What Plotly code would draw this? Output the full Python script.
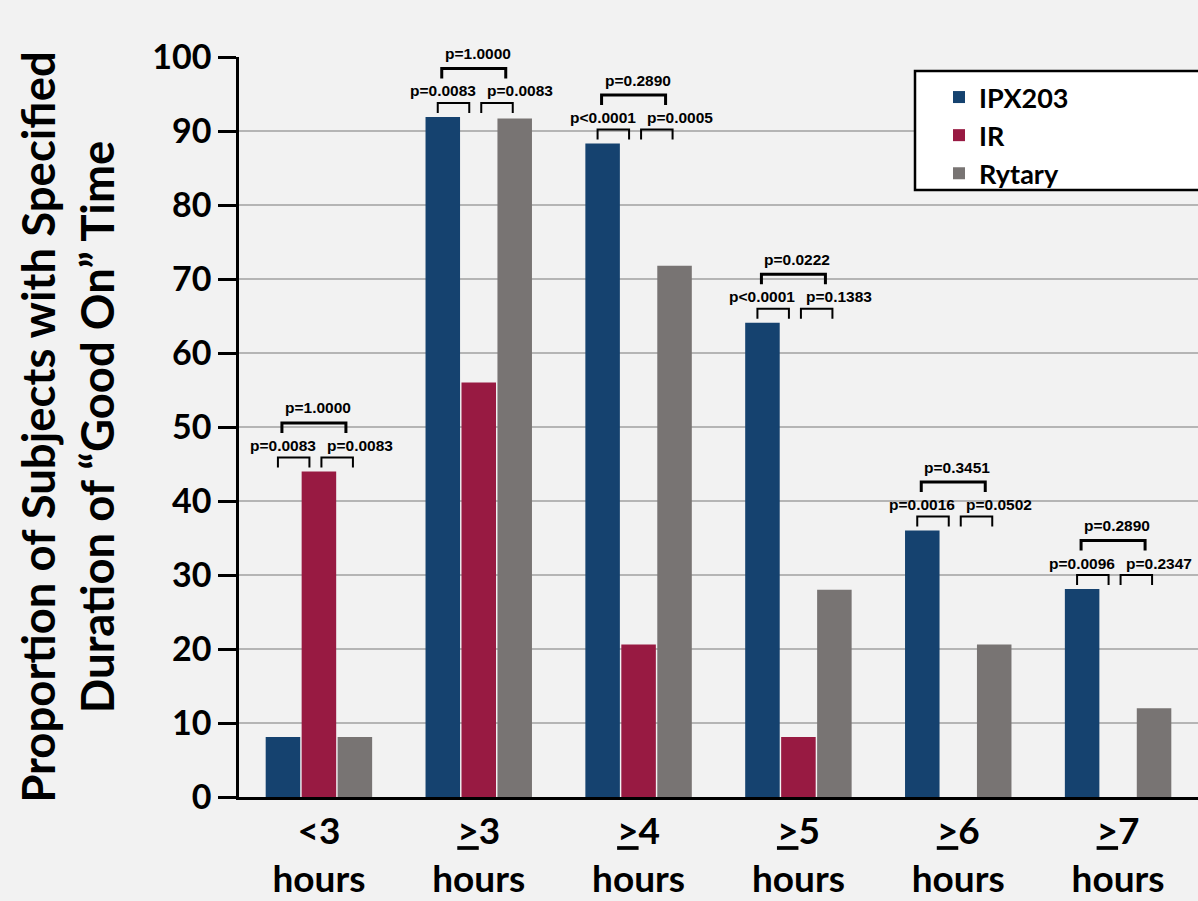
import plotly.graph_objects as go

# ---------------- data ----------------
categories = ["<3<br>hours", "<u>></u>3<br>hours", "<u>></u>4<br>hours",
              "<u>></u>5<br>hours", "<u>></u>6<br>hours", "<u>></u>7<br>hours"]
ipx203 = [8.1, 91.9, 88.3, 64.1, 36.0, 28.1]
ir = [44.0, 56.0, 20.6, 8.1, 0.0, 0.0]
rytary = [8.1, 91.7, 71.8, 28.0, 20.6, 12.0]

p_ipx_vs_ir = ["p=0.0083", "p=0.0083", "p<0.0001", "p<0.0001", "p=0.0016", "p=0.0096"]
p_ir_vs_ryt = ["p=0.0083", "p=0.0083", "p=0.0005", "p=0.1383", "p=0.0502", "p=0.2347"]
p_ipx_vs_ryt = ["p=1.0000", "p=1.0000", "p=0.2890", "p=0.0222", "p=0.3451", "p=0.2890"]

y_ticks = list(range(0, 101, 10))

# ---------------- style ----------------
W, H = 1198, 901
M = dict(l=239, r=0, t=57, b=104)
BG = "#F2F2F2"
FONT = "Lato, 'Open Sans', sans-serif"
PFONT = "'Liberation Sans', Arial, sans-serif"
colors = {"IPX203": "#15426F", "IR": "#981A42", "Rytary": "#787473"}

plot_h = H - M["t"] - M["b"]
plot_w = W - M["l"] - M["r"]
ppu = plot_h / 100.0  # pixels per y unit
cat_px = plot_w / len(categories)

x = list(range(len(categories)))

fig = go.Figure()
for name, vals in [("IPX203", ipx203), ("IR", ir), ("Rytary", rytary)]:
    fig.add_trace(go.Bar(x=x, y=vals, name=name, marker=dict(color=colors[name], line=dict(width=0)),
                         cliponaxis=False))

# ---------------- significance brackets ----------------
def px2x(p):
    return p / cat_px

def px2y(p):
    return p / ppu

shapes = []
annotations = []
for i in x:
    top = max(ipx203[i], ir[i], rytary[i])
    small_top = top + px2y(14)
    small_bot = top + px2y(4)
    big_top = top + px2y(48.5)
    big_bot = top + px2y(38.5)
    for (a, b) in [(-41, -9.5), (2.5, 34)]:
        shapes.append(dict(type="path", xref="x", yref="y",
                           path=f"M {i+px2x(a)},{small_bot} L {i+px2x(a)},{small_top} L {i+px2x(b)},{small_top} L {i+px2x(b)},{small_bot}",
                           line=dict(color="black", width=2)))
    shapes.append(dict(type="path", xref="x", yref="y",
                       path=f"M {i+px2x(-37)},{big_bot} L {i+px2x(-37)},{big_top} L {i+px2x(27)},{big_top} L {i+px2x(27)},{big_bot}",
                       line=dict(color="black", width=3)))
    for txt, dx, dy in [(p_ipx_vs_ir[i], -36, 26), (p_ir_vs_ryt[i], 41, 26), (p_ipx_vs_ryt[i], -1, 63.5)]:
        annotations.append(dict(x=i + px2x(dx), y=(top + px2y(dy)) / 100.0, xref="x", yref="paper",
                                text=f"<b>{txt}</b>", showarrow=False,
                                xanchor="center", yanchor="middle",
                                font=dict(family=PFONT, size=15.5, color="black")))

# legend box
shapes.append(dict(type="rect", xref="paper", yref="paper",
                   x0=(915 - M["l"]) / plot_w, x1=1.02,
                   y0=(H - M["b"] - 190) / plot_h, y1=(H - M["b"] - 71) / plot_h,
                   fillcolor="white", line=dict(color="black", width=2.5), layer="above"))

fig.update_layout(
    width=W, height=H, margin=M,
    paper_bgcolor=BG, plot_bgcolor=BG,
    barmode="group", bargap=0.325, bargroupgap=0.04,
    font=dict(family=FONT, color="black"),
    showlegend=True,
    legend=dict(x=(939 - M["l"]) / plot_w, y=(H - M["b"] - 73) / plot_h,
                xanchor="left", yanchor="top", bgcolor="rgba(0,0,0,0)", borderwidth=0,
                font=dict(family=FONT, size=27, color="black", weight="bold"),
                tracegroupgap=0),
    shapes=shapes, annotations=annotations,
)

fig.update_xaxes(range=[-0.5, len(categories) - 0.5], tickvals=x, ticktext=[f"<b>{c}</b>" for c in categories],
                 tickfont=dict(family=FONT, size=37, color="black"),
                 showline=True, linecolor="black", linewidth=2.5, ticks="", showgrid=False,
                 zeroline=False)
fig.update_yaxes(range=[0, 100], tickvals=y_ticks, ticktext=[f"<b>{v}</b>" for v in y_ticks],
                 tickfont=dict(family=FONT, size=34, color="black"),
                 showline=True, linecolor="black", linewidth=2.5,
                 ticks="outside", ticklen=18, tickwidth=2.5, tickcolor="black",
                 showgrid=True, gridcolor="#B5B5B5", gridwidth=1.5, zeroline=False,
                 title=dict(text="<b>Proportion of Subjects with Specified<br>Duration of “Good On” Time</b>",
                            font=dict(family=FONT, size=45.5, color="black"), standoff=24))

fig.write_html("out.html", config={"displayModeBar": False},
               post_script="document.body.style.margin='0px';")
